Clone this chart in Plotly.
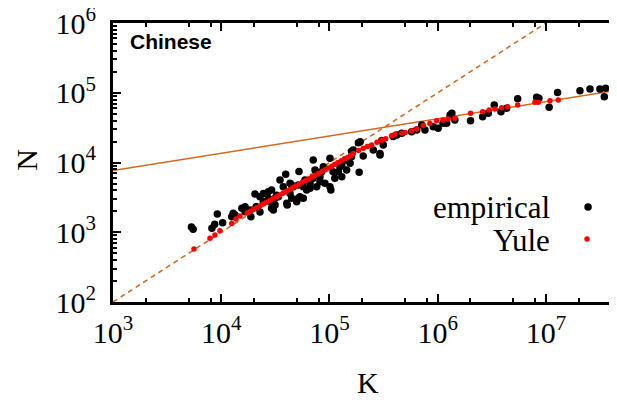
import plotly.graph_objects as go

# ---------------- data ----------------
emp_K = [5.5e3, 5.3e3, 8.2e3, 8.7e3, 9.2e3, 1.03e4, 1.25e4, 1.34e4, 1.55e4, 1.66e4,
         1.88e4, 2.05e4, 2.45e4, 2.72e4, 3.25e4, 3.03e4, 2.92e4, 1.85e4, 2.1e4, 2.28e4,
         3.94e4, 4.07e4, 4.48e4, 5.23e4, 4.98e4, 7.08e4, 1.01e5, 1.03e5, 1.85e5, 1.88e5,
         2.05e5, 2.93e5, 3.04e5, 8.77e4, 1.66e5, 1.25e5, 3.1e4, 2.92e4, 3.37e4, 4.03e4,
         4.32e4, 4.63e4, 5.15e4, 5.73e4, 6.15e4, 6.61e4, 7.62e4, 8.17e4, 9.08e4, 1.01e5,
         1.12e5, 1.21e5, 1.3e5, 1.44e5, 1.55e5, 1.08e5, 7.08e4, 5.94e4, 5.15e4, 4.32e4,
         3.74e4, 3.49e4, 1.92e5, 1.6e5, 2.54e5, 2.93e5, 3.14e5, 3.88e5, 4.18e5, 4.65e5,
         5.74e5, 6.4e5, 7.11e5, 7.62e5, 9.1e5, 1.01e6, 1.21e6, 1.3e6, 1.12e6, 1.35e6,
         1.44e6, 2.01e6, 2.6e6, 2.93e6, 3.33e6, 3.84e6, 4.33e6, 5.48e6, 8.2e6, 8.61e6,
         1.07e7, 1.28e7, 2.06e7, 2.55e7, 3.15e7, 3.56e7, 3.46e7, 4.28e7, 2.82e4, 3.14e4,
         5.73e4, 8.47e4, 1.3e5, 1.39e5, 1.6e5, 1.29e4, 1.66e4, 2.12e4, 2.45e4, 2.72e4,
         3.14e4, 2.28e4, 7.35e4, 8.17e4, 5.33e4, 4.48e4, 6.61e4]
emp_N = [1.1e3, 1.19e3, 1.14e3, 1.3e3, 1.83e3, 1.37e3, 1.67e3, 1.77e3, 2.2e3, 2.32e3,
         1.67e3, 3.53e3, 3.6e3, 3.8e3, 3.4e3, 2.08e3, 2.2e3, 2.08e3, 2.3e3, 1.95e3,
         6.8e3, 2.46e3, 4.75e3, 7.4e3, 2.74e3, 1.09e4, 1.15e4, 4.04e3, 1.92e4, 7.25e3,
         1.24e4, 1.28e4, 2.06e4, 8.7e3, 1.51e4, 8.7e3, 2.5e3, 4.04e3, 3.24e3, 2.6e3,
         3.6e3, 4.5e3, 3.07e3, 3.07e3, 4.04e3, 5.04e3, 4.5e3, 6.25e3, 5.04e3, 4.5e3,
         5.93e3, 7.38e3, 6.25e3, 7.8e3, 9.74e3, 7.38e3, 5.93e3, 5.6e3, 4.75e3, 5.04e3,
         4.5e3, 5.6e3, 1.99e4, 1.45e4, 1.51e4, 1.35e4, 1.78e4, 2.35e4, 2.48e4, 2.62e4,
         2.77e4, 2.93e4, 3.45e4, 2.93e4, 3.26e4, 3.09e4, 3.65e4, 4.8e4, 3.65e4, 5.07e4,
         4.06e4, 3.97e4, 4.54e4, 5.07e4, 6.67e4, 5.35e4, 5.98e4, 8.22e4, 8.61e4, 8.32e4,
         6.18e4, 1.01e5, 1.07e5, 1.13e5, 1.13e5, 1.16e5, 8.77e4, 1.26e5, 2.74e3, 3.07e3,
         4.5e3, 7.38e3, 9.2e3, 1.09e4, 1.21e4, 1.87e3, 1.97e3, 2.32e3, 2.74e3, 3.07e3,
         2.46e3, 3.24e3, 7.8e3, 5.3e3, 3.24e3, 3.07e3, 4.27e3]

yule_K = [5.6e3, 7.87e3, 8.75e3, 9.73e3, 1.25e4, 1.37e4, 1.49e4,
          1.74e4, 1.86e4, 2.0e4, 2.14e4, 2.29e4, 2.45e4, 2.63e4, 2.82e4, 3.02e4, 3.24e4,
          3.47e4, 3.72e4, 3.98e4, 4.27e4, 4.57e4, 4.9e4, 5.25e4, 5.62e4, 6.03e4, 6.46e4,
          6.92e4, 7.41e4, 7.94e4, 8.51e4, 9.12e4, 9.77e4, 1.05e5, 1.12e5, 1.2e5, 1.29e5,
          1.38e5, 1.48e5, 1.58e5,
          1.66e5, 1.86e5, 2.05e5, 2.24e5, 2.45e5, 2.75e5, 3.03e5, 3.31e5, 3.76e5, 4.03e5,
          4.65e5, 5.01e5, 5.74e5, 6.4e5, 7.36e5, 8.47e5, 9.77e5, 1.12e6, 1.25e6, 1.44e6,
          2.01e6, 2.6e6, 2.99e6, 3.38e6, 3.9e6, 4.43e6, 5.48e6, 7.91e6, 8.49e6, 1.09e7,
          1.3e7]
yule_N = [575, 818, 912, 1.05e3, 1.34e3, 1.55e3, 1.71e3,
          1.89e3, 2.0e3, 2.13e3, 2.25e3, 2.39e3, 2.54e3, 2.7e3, 2.86e3, 3.03e3, 3.22e3,
          3.42e3, 3.63e3, 3.85e3, 4.08e3, 4.34e3, 4.6e3, 4.89e3, 5.19e3, 5.5e3, 5.83e3,
          6.19e3, 6.58e3, 6.98e3, 7.4e3, 7.85e3, 8.34e3, 8.85e3, 9.4e3, 9.96e3, 1.06e4,
          1.12e4, 1.19e4, 1.26e4,
          1.35e4, 1.48e4, 1.6e4, 1.7e4, 1.78e4, 1.95e4, 2.08e4, 2.19e4, 2.42e4, 2.54e4,
          2.62e4, 2.69e4, 2.85e4, 3.02e4, 3.39e4, 3.63e4, 3.97e4, 4.07e4, 4.22e4, 4.31e4,
          5.07e4, 5.35e4, 5.66e4, 5.85e4, 6.11e4, 6.31e4, 6.67e4, 7.29e4, 7.29e4, 7.69e4,
          7.87e4]

# fitted lines (end points)
heaps_K = [1e3, 5e7]
heaps_N = [7.7e3, 1.11e5]
linear_K = [1e3, 1e8]
linear_N = [1e2, 1e7]

x_tickvals = [1e3, 1e4, 1e5, 1e6, 1e7]
x_ticktext = ["10<sup>3</sup>", "10<sup>4</sup>", "10<sup>5</sup>", "10<sup>6</sup>", "10<sup>7</sup>"]
y_tickvals = [1e2, 1e3, 1e4, 1e5, 1e6]
y_ticktext = ["10<sup>2</sup>", "10<sup>3</sup>", "10<sup>4</sup>", "10<sup>5</sup>", "10<sup>6</sup>"]

# ---------------- figure ----------------
ORANGE = "#d2691e"
SERIF = "Liberation Serif"

fig = go.Figure()
fig.add_trace(go.Scatter(x=linear_K, y=linear_N, mode="lines",
                         line=dict(color=ORANGE, width=1.5, dash="5px,4px"),
                         showlegend=False, hoverinfo="skip"))
fig.add_trace(go.Scatter(x=heaps_K, y=heaps_N, mode="lines",
                         line=dict(color=ORANGE, width=1.5),
                         showlegend=False, hoverinfo="skip"))
fig.add_trace(go.Scatter(x=emp_K, y=emp_N, mode="markers", name="empirical",
                         marker=dict(color="black", size=7.5, line=dict(width=0)),
                         showlegend=False))
fig.add_trace(go.Scatter(x=yule_K, y=yule_N, mode="markers", name="Yule",
                         marker=dict(color="#ff0000", size=5.5, line=dict(width=0)),
                         showlegend=False))

minor_x = [m * 10 ** e for e in range(3, 8) for m in (2, 5, 8)]
minor_y = [m * 10 ** e for e in range(2, 6) for m in range(2, 10)]

axis_common = dict(
    type="log", showgrid=False, zeroline=False, automargin=False,
    showline=True, linecolor="black", linewidth=3, mirror="ticks",
    ticks="inside", ticklen=8, tickwidth=2, tickcolor="black",
    tickfont=dict(family=SERIF, size=30, color="black"),
    ticklabeloverflow="allow",
)

# page body has an 8px margin: the figure is sized/offset to compensate
fig.update_layout(
    width=612, height=392,
    margin=dict(l=105, r=0, t=15, b=98),
    paper_bgcolor="white", plot_bgcolor="white",
    showlegend=False,
    xaxis=dict(axis_common, range=[3, 7.684], tickmode="array",
               tickvals=x_tickvals, ticktext=x_ticktext, ticklabelstandoff=2,
               minor=dict(tickmode="array", tickvals=minor_x, ticks="inside",
                          ticklen=4, tickwidth=2, tickcolor="black", showgrid=False)),
    yaxis=dict(axis_common, range=[2, 6], tickmode="array",
               tickvals=y_tickvals, ticktext=y_ticktext, ticklabelstandoff=8,
               minor=dict(tickmode="array", tickvals=minor_y, ticks="inside",
                          ticklen=4, tickwidth=2, tickcolor="black", showgrid=False)),
)

annotations = [
    dict(text="<b>Chinese</b>", x=0.0296, y=0.932, xref="paper", yref="paper",
         xanchor="left", yanchor="middle", showarrow=False,
         font=dict(family="Liberation Sans", size=21, color="black")),
    dict(text="K", x=0.503, y=-0.287, xref="paper", yref="paper",
         xanchor="center", yanchor="middle", showarrow=False,
         font=dict(family=SERIF, size=30, color="black")),
    dict(text="N", x=-0.170, y=0.509, xref="paper", yref="paper",
         xanchor="center", yanchor="middle", showarrow=False, textangle=-90,
         font=dict(family=SERIF, size=30, color="black")),
    dict(text="empirical", x=0.866, y=0.337, xref="paper", yref="paper",
         xanchor="right", yanchor="middle", showarrow=False,
         font=dict(family=SERIF, size=31, color="black")),
    dict(text="Yule", x=0.866, y=0.222, xref="paper", yref="paper",
         xanchor="right", yanchor="middle", showarrow=False,
         font=dict(family=SERIF, size=31, color="black")),
]
fig.update_layout(annotations=annotations)

shapes = [
    dict(type="circle", xref="paper", yref="paper", xsizemode="pixel", ysizemode="pixel",
         xanchor=0.937, yanchor=0.3405, x0=-3.75, x1=3.75, y0=-3.75, y1=3.75,
         fillcolor="black", line=dict(width=0)),
    dict(type="circle", xref="paper", yref="paper", xsizemode="pixel", ysizemode="pixel",
         xanchor=0.935, yanchor=0.2258, x0=-2.75, x1=2.75, y0=-2.75, y1=2.75,
         fillcolor="#ff0000", line=dict(width=0)),
]
fig.update_layout(shapes=shapes)

fig.write_html("out.html")
